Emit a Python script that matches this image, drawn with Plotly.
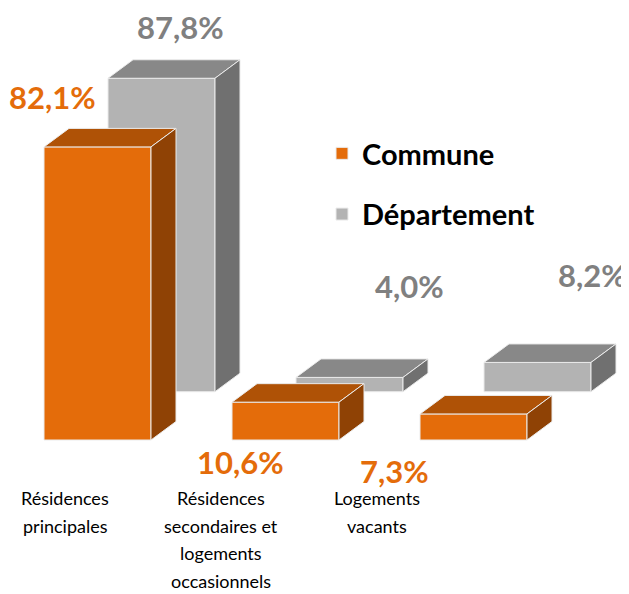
from plotly import graph_objects as go

categories = ['Résidences principales',
              'Résidences secondaires et logements occasionnels',
              'Logements vacants']
cat_lines = [['Résidences', 'principales'],
             ['Résidences', 'secondaires et', 'logements', 'occasionnels'],
             ['Logements', 'vacants']]
commune = [82.1, 10.6, 7.3]
departement = [87.8, 4.0, 8.2]

# the page body keeps an 8px margin, so the figure is made smaller and shifted
PAGE_W, PAGE_H, OFF = 629, 594, 8
W, H = PAGE_W - OFF, PAGE_H - OFF
# axis set up so that 1 category = 188 px and 1 % = 3.57 px
PX_X, PX_Y = 188.0, 3.57
X0_PX, Y0_PX = 97.5, 440.0   # page pixel of first front bar centre / baseline
BAR_W = 107 / PX_X
BACK_DX, BACK_BASE = 64 / PX_X, 48.3 / PX_Y
DEPTH_X, DEPTH_Y = 25 / PX_X, 18.5 / PX_Y

ORANGE = ['#E46C0A', '#AF5206', '#8F4205']
GREY = ['#B3B3B3', '#888888', '#707070']
EDGE = '#EBEBEB'
FONT = 'Lato'

fig = go.Figure()


def faces(xs, vals, base, colors, name, rank):
    fig.add_trace(go.Bar(
        name=name, x=xs, y=vals, base=base, width=BAR_W,
        marker=dict(color=colors[0], line=dict(color=EDGE, width=1)),
        legendgroup=name, legendrank=rank, hoverinfo='skip'))
    top_x, top_y, side_x, side_y = [], [], [], []
    for cx, v in zip(xs, vals):
        l, r, t = cx - BAR_W / 2, cx + BAR_W / 2, base + v
        top_x += [l, r, r + DEPTH_X, l + DEPTH_X, l, None]
        top_y += [t, t, t + DEPTH_Y, t + DEPTH_Y, t, None]
        side_x += [r, r, r + DEPTH_X, r + DEPTH_X, r, None]
        side_y += [base, t, t + DEPTH_Y, base + DEPTH_Y, base, None]
    return [(top_x, top_y, colors[1]), (side_x, side_y, colors[2])]


pos = list(range(len(categories)))
back = faces([p + BACK_DX for p in pos], departement, BACK_BASE, GREY, 'Département', 2)
front = faces(pos, commune, 0, ORANGE, 'Commune', 1)
for px, py, c in back + front:
    fig.add_trace(go.Scatter(
        x=px, y=py, mode='lines', fill='toself', fillcolor=c,
        line=dict(color=EDGE, width=1), showlegend=False, hoverinfo='skip'))

# value labels (page pixel positions, as placed by the original 3D chart)
lab_commune = [(52, 97), (240, 462), (394, 471)]
lab_dep = [(180, 27), (409, 286), (592, 275)]


def fmt(v):
    return f'{v:.1f}'.replace('.', ',') + '%'


def px2paper(x, y):
    return (x - OFF) / W, 1 - (y - OFF) / H


for vals, labs, col in [(commune, lab_commune, ORANGE[0]), (departement, lab_dep, '#808080')]:
    for v, (lx, ly) in zip(vals, labs):
        ax, ay = px2paper(lx, ly)
        fig.add_annotation(
            text=fmt(v), xref='paper', yref='paper', x=ax, y=ay,
            xanchor='center', yanchor='middle', showarrow=False,
            font=dict(family=FONT, size=31, color=col, weight='bold'))

cat_x = [65, 221, 377]
for cx, lines in zip(cat_x, cat_lines):
    for i, line in enumerate(lines):
        ax, ay = px2paper(cx, 498 + 27.5 * i)
        fig.add_annotation(
            text=line, xref='paper', yref='paper', x=ax, y=ay,
            xanchor='center', yanchor='middle', showarrow=False,
            font=dict(family=FONT, size=18, color='#000000'))

lx, ly = px2paper(322, 128)
fig.update_layout(
    width=W, height=H, margin=dict(l=0, r=0, t=0, b=0),
    plot_bgcolor='white', paper_bgcolor='white', barmode='overlay',
    xaxis=dict(range=[(OFF - X0_PX) / PX_X, (PAGE_W - X0_PX) / PX_X],
               visible=False, fixedrange=True),
    yaxis=dict(range=[-(PAGE_H - Y0_PX) / PX_Y, (Y0_PX - OFF) / PX_Y],
               visible=False, fixedrange=True),
    legend=dict(x=lx, y=ly, xanchor='left', yanchor='top',
                traceorder='grouped', tracegroupgap=20, bgcolor='rgba(0,0,0,0)',
                font=dict(family=FONT, size=29, color='#000000', weight='bold')),
)

fig.write_html('out.html')
